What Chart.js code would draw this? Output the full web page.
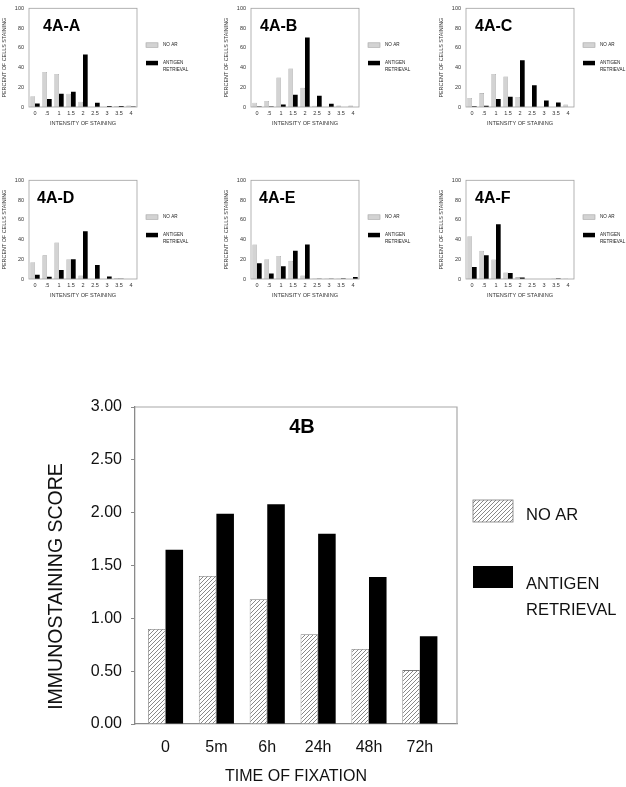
<!DOCTYPE html>
<html>
<head>
<meta charset="utf-8">
<script src="https://cdn.jsdelivr.net/npm/chart.js@4.4.1/dist/chart.umd.min.js"></script>
<style>
html,body{margin:0;padding:0;background:#fff;overflow:hidden;width:626px;height:787px;}
canvas{position:absolute;}
</style>
</head>
<body>
<canvas id="pA"></canvas>
<canvas id="pB"></canvas>
<canvas id="pC"></canvas>
<canvas id="pD"></canvas>
<canvas id="pE"></canvas>
<canvas id="pF"></canvas>
<canvas id="big"></canvas>
<script>
// ---------- DATA ----------
const intensityLabels = ['0', '.5', '1', '1.5', '2', '2.5', '3', '3.5', '4'];
const panelTitles = ['4A-A', '4A-B', '4A-C', '4A-D', '4A-E', '4A-F'];
const seriesNames = ['NO AR', 'ANTIGEN RETRIEVAL'];

const noArA = [11, 35.5, 33.5, 13.5, 5.3, 0, 0, 1, 1.6];
const arA   = [3.6, 8.2, 13.5, 15.5, 53.3, 4.3, 1, 1, 0.5];
const noArB = [4.3, 6.2, 30, 39, 19.4, 1.3, 0, 1.6, 1.6];
const arB   = [0.6, 0.6, 2.6, 12.5, 70.4, 11.5, 3.3, 0, 0];
const noArC = [9.2, 14.1, 33.5, 31, 10.2, 0, 0, 0, 2.6];
const arC   = [0.7, 1.3, 8.2, 10.5, 47.4, 22, 6.6, 4.6, 0];
const noArD = [17, 24, 37, 20, 3.6, 0, 0, 1, 0];
const arD   = [4.3, 2.3, 9.2, 20, 48.5, 14.1, 2.6, 0.3, 0];
const noArE = [35, 20, 23.3, 18.4, 3.6, 0.6, 0.6, 0.6, 0];
const arE   = [16, 5.6, 12.8, 28.5, 35, 0.3, 0.3, 0.6, 2];
const noArF = [43.3, 28.5, 19.7, 6.6, 2, 0, 0, 0.6, 0.6];
const arF   = [12.1, 24, 55.4, 6.2, 1.6, 0, 0, 0.6, 0];

const timeLabels = ['0', '5m', '6h', '24h', '48h', '72h'];
const scoreNoAR = [0.90, 1.40, 1.18, 0.85, 0.71, 0.51];
const scoreAR   = [1.65, 1.99, 2.08, 1.80, 1.39, 0.83];
const bigTitle = '4B';

// ---------- LAYOUT / STYLE ----------
const FONT = '"Liberation Sans", Arial, Helvetica, sans-serif';
const panelNoAr = [noArA, noArB, noArC, noArD, noArE, noArF];
const panelAr = [arA, arB, arC, arD, arE, arF];
const panelIds = ['pA', 'pB', 'pC', 'pD', 'pE', 'pF'];
const panelPos = [[29, 5], [251, 5], [466, 5], [29, 177], [251, 177], [466, 177]];
const panelTitleDx = [14, 9, 9, 8, 8, 9];
const SW = 189, SH = 130;

const smallDecor = {
  id: 'smallDecor',
  afterDatasetsDraw(chart, args, opts) {
    const ctx = chart.ctx, a = chart.chartArea;
    ctx.save();
    ctx.strokeStyle = '#a0a0a0';
    ctx.lineWidth = 0.8;
    ctx.strokeRect(a.left, a.top, a.right - a.left, a.bottom - a.top);
    ctx.fillStyle = '#000';
    ctx.font = 'bold 16px ' + FONT;
    ctx.textAlign = 'left';
    ctx.textBaseline = 'alphabetic';
    ctx.fillText(opts.title, a.left + opts.titleDx, a.top + 22.5);
    const lx = a.left + 117;
    const rows = [a.top + 34.5, a.top + 52.5];
    chart.data.datasets.forEach((d, i) => {
      ctx.fillStyle = d.backgroundColor;
      ctx.fillRect(lx, rows[i], 12, 4.5);
      if (d.borderWidth) {
        ctx.strokeStyle = d.borderColor;
        ctx.lineWidth = d.borderWidth;
        ctx.strokeRect(lx, rows[i], 12, 4.5);
      }
      ctx.fillStyle = '#222';
      ctx.font = '4.6px ' + FONT;
      ctx.textBaseline = 'middle';
      const lines = i === 1 ? d.label.split(' ') : [d.label];
      lines.forEach((t, k) => ctx.fillText(t, lx + 17, rows[i] + 2.25 + k * 7));
    });
    ctx.restore();
  }
};

panelIds.forEach((id, p) => {
  const cv = document.getElementById(id);
  cv.width = SW; cv.height = SH;
  cv.style.left = (panelPos[p][0] - 29) + 'px';
  cv.style.top = (panelPos[p][1] - 5) + 'px';
  cv.style.width = SW + 'px'; cv.style.height = SH + 'px';
  new Chart(cv, {
    type: 'bar',
    data: {
      labels: intensityLabels,
      datasets: [
        { label: seriesNames[0], data: panelNoAr[p], backgroundColor: '#d3d3d3', borderColor: '#a2a2a2', borderWidth: 0.6,
          categoryPercentage: 0.78, barPercentage: 1 },
        { label: seriesNames[1], data: panelAr[p], backgroundColor: '#000', borderWidth: 0,
          categoryPercentage: 0.78, barPercentage: 1 }
      ]
    },
    options: {
      responsive: false, animation: false, devicePixelRatio: 1,
      layout: { padding: { top: 5, right: SW - 137, bottom: 0, left: 0 } },
      plugins: { legend: { display: false }, tooltip: { enabled: false },
        smallDecor: { title: panelTitles[p], titleDx: panelTitleDx[p] } },
      scales: {
        x: {
          grid: { display: false, drawTicks: false }, border: { display: false },
          ticks: { font: { size: 5.5, family: FONT }, color: '#333', padding: 2.7, maxRotation: 0, autoSkip: false },
          title: { display: true, text: 'INTENSITY OF STAINING', font: { size: 5.6, family: FONT }, color: '#333', padding: { top: 0, bottom: 2.7 } },
          afterFit: s => { s.height = 23; }
        },
        y: {
          min: 0, max: 100,
          grid: { display: false, drawTicks: false }, border: { display: false },
          ticks: { stepSize: 20, font: { size: 5.5, family: FONT }, color: '#333', padding: 5 },
          title: { display: true, text: 'PERCENT OF CELLS STAINING', font: { size: 5.4, family: FONT }, color: '#333', padding: { top: 1.7, bottom: 0 } },
          afterFit: s => { s.width = 29; }
        }
      }
    },
    plugins: [smallDecor]
  });
});

// ---------- BIG CHART ----------
function makeHatch() {
  const c = document.createElement('canvas');
  c.width = 4; c.height = 4;
  const g = c.getContext('2d');
  g.fillStyle = '#fff'; g.fillRect(0, 0, 4, 4);
  g.strokeStyle = '#6a6a6a'; g.lineWidth = 0.8;
  g.beginPath();
  g.moveTo(0, 4); g.lineTo(4, 0);
  g.moveTo(-1, 1); g.lineTo(1, -1);
  g.moveTo(3, 5); g.lineTo(5, 3);
  g.stroke();
  return g.createPattern(c, 'repeat');
}
const hatch = makeHatch();

const bigDecor = {
  id: 'bigDecor',
  afterDatasetsDraw(chart) {
    const ctx = chart.ctx, a = chart.chartArea;
    ctx.save();
    // top & right frame
    ctx.strokeStyle = '#a8a8a8'; ctx.lineWidth = 1.2;
    ctx.beginPath();
    ctx.moveTo(a.left, a.top); ctx.lineTo(a.right, a.top); ctx.lineTo(a.right, a.bottom);
    ctx.stroke();
    // title
    ctx.fillStyle = '#000';
    ctx.font = 'bold 20px ' + FONT;
    ctx.textAlign = 'center'; ctx.textBaseline = 'middle';
    ctx.fillText(bigTitle, a.left + 167, a.top + 20);
    // y title
    ctx.save();
    ctx.translate(57, a.top + 179.5);
    ctx.rotate(-Math.PI / 2);
    ctx.font = '19.5px ' + FONT;
    ctx.fillStyle = '#111';
    ctx.fillText('IMMUNOSTAINING SCORE', 0, 0);
    ctx.restore();
    // legend
    const lx = a.right + 16;
    const ds = chart.data.datasets;
    const boxes = [a.top + 93, a.top + 159];
    ds.forEach((d, i) => {
      ctx.fillStyle = d.backgroundColor;
      ctx.fillRect(lx, boxes[i], 40, 22);
      if (d.borderWidth) {
        ctx.strokeStyle = d.borderColor; ctx.lineWidth = d.borderWidth;
        ctx.strokeRect(lx, boxes[i], 40, 22);
      }
    });
    ctx.fillStyle = '#111';
    ctx.font = '16.5px ' + FONT;
    ctx.textAlign = 'left'; ctx.textBaseline = 'middle';
    ctx.fillText(ds[0].label, lx + 53, boxes[0] + 15);
    const parts = ds[1].label.split(' ');
    ctx.fillText(parts[0], lx + 53, boxes[1] + 18);
    ctx.fillText(parts[1], lx + 53, boxes[1] + 44);
    ctx.restore();
  }
};

const bc = document.getElementById('big');
bc.width = 626; bc.height = 407;
bc.style.left = '0px'; bc.style.top = '380px';
bc.style.width = '626px'; bc.style.height = '407px';
new Chart(bc, {
  type: 'bar',
  data: {
    datasets: [
      { label: seriesNames[0], data: timeLabels.map((t, i) => ({ x: i, y: scoreNoAR[i] })),
        backgroundColor: hatch, borderColor: '#7a7a7a', borderWidth: 0.8,
        categoryPercentage: 0.69, barPercentage: 1 },
      { label: seriesNames[1], data: timeLabels.map((t, i) => ({ x: i, y: scoreAR[i] })),
        backgroundColor: '#000', borderWidth: 0,
        categoryPercentage: 0.69, barPercentage: 1 }
    ]
  },
  options: {
    responsive: false, animation: false, devicePixelRatio: 1,
    layout: { padding: { top: 27, right: 626 - 457, bottom: 0, left: 0 } },
    plugins: { legend: { display: false }, tooltip: { enabled: false } },
    scales: {
      x: {
        type: 'linear', min: -0.6, max: 5.73, offset: false,
        grid: { display: false, drawTicks: false },
        border: { display: true, color: '#8a8a8a', width: 1.3 },
        ticks: { stepSize: 1, includeBounds: false, autoSkip: false, maxRotation: 0,
          font: { size: 16, family: FONT }, color: '#111', padding: 14.4,
          callback: v => (timeLabels[v] !== undefined ? timeLabels[v] : '') },
        title: { display: true, text: 'TIME OF FIXATION', font: { size: 16, family: FONT }, color: '#111', padding: { top: 0, bottom: 1.1 } },
        afterFit: s => { s.height = 63; }
      },
      y: {
        min: 0, max: 3,
        grid: { display: true, drawOnChartArea: false, drawTicks: true, tickLength: 4, color: '#8a8a8a', lineWidth: 1 },
        border: { display: true, color: '#8a8a8a', width: 1.3 },
        ticks: { stepSize: 0.5, font: { size: 16, family: FONT }, color: '#111', padding: 9,
          callback: v => Number(v).toFixed(2) },
        afterFit: s => { s.width = 135; }
      }
    }
  },
  plugins: [bigDecor]
});
</script>
</body>
</html>
